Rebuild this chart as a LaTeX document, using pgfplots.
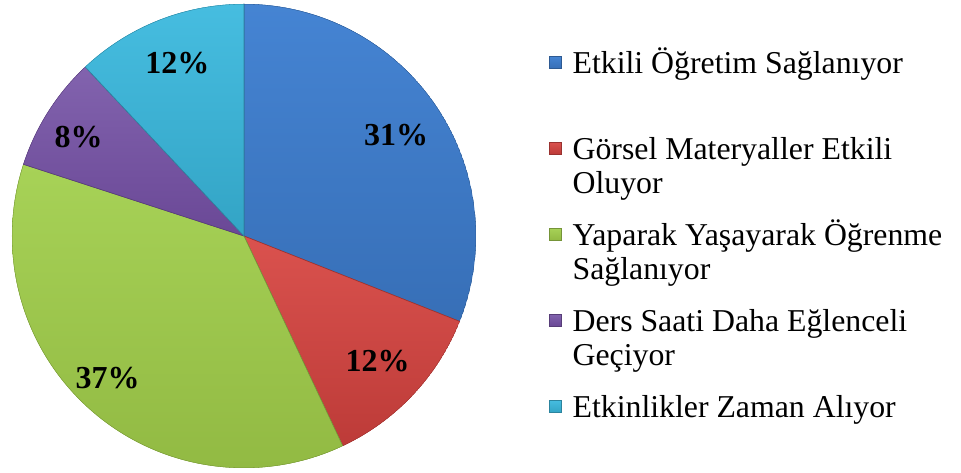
\documentclass[border=0pt]{standalone}
\usepackage{pgfplots}
\pgfplotsset{compat=1.18}
\usepgfplotslibrary{polar}
\usepackage{fontspec}
\setmainfont{Liberation Serif}
\definecolor{pblue}{HTML}{3D78C3}
\definecolor{pred}{HTML}{CC4340}
\definecolor{pgreen}{HTML}{9CC54B}
\definecolor{ppurple}{HTML}{7452A0}
\definecolor{pcyan}{HTML}{3BB0D3}
\definecolor{pblueT}{HTML}{4584D3}
\definecolor{pblueB}{HTML}{376FB7}
\definecolor{predT}{HTML}{DA524E}
\definecolor{predB}{HTML}{BD3B38}
\definecolor{pgreenT}{HTML}{A7D257}
\definecolor{pgreenB}{HTML}{92BA43}
\definecolor{ppurpleT}{HTML}{8263AE}
\definecolor{ppurpleB}{HTML}{6A4896}
\definecolor{pcyanT}{HTML}{46BDE0}
\definecolor{pcyanB}{HTML}{33A4C5}
\begin{document}
\begin{tikzpicture}
\begin{polaraxis}[
  at={(244pt,237pt)}, anchor=center,
  scale only axis, width=464pt, height=464pt,
  ymin=0, ymax=1, hide axis,
  legend style={at={(1.1573,0.9073)}, anchor=north west, draw=none, fill=none,
    inner sep=0pt, row sep=0pt, column sep=11pt,
    font=\fontsize{31.8}{34}\selectfont,
    cells={anchor=base west},
    nodes={inner sep=0pt, text height=26pt, text depth=60pt}},
  legend image code/.code={\filldraw[#1, line width=0.4pt] (0pt,5pt) rectangle (12pt,17pt);},
]
% values (percent): 31, 12, 37, 8, 12 -- clockwise from 12 o'clock
\addplot[fill=pblue, top color=pblueT, bottom color=pblueB, draw=pblue!75!black, line width=0.6pt, domain={90-3.6*31}:90, samples=90] {1} -- (axis cs:0,0) -- cycle;
\addlegendentry{Etkili Öğretim Sağlanıyor}
\addplot[fill=pred, top color=predT, bottom color=predB, draw=pred!75!black, line width=0.6pt, domain={90-3.6*(31+12)}:{90-3.6*31}, samples=40] {1} -- (axis cs:0,0) -- cycle;
\addlegendentry{\parbox[t]{380pt}{Görsel Materyaller Etkili\\Oluyor}}
\addplot[fill=pgreen, top color=pgreenT, bottom color=pgreenB, draw=pgreen!75!black, line width=0.6pt, domain={90-3.6*(31+12+37)}:{90-3.6*(31+12)}, samples=100] {1} -- (axis cs:0,0) -- cycle;
\addlegendentry{\parbox[t]{380pt}{Yaparak Yaşayarak Öğrenme\\Sağlanıyor}}
\addplot[fill=ppurple, top color=ppurpleT, bottom color=ppurpleB, draw=ppurple!75!black, line width=0.6pt, domain={90-3.6*(31+12+37+8)}:{90-3.6*(31+12+37)}, samples=30] {1} -- (axis cs:0,0) -- cycle;
\addlegendentry{\parbox[t]{380pt}{Ders Saati Daha Eğlenceli\\Geçiyor}}
\addplot[fill=pcyan, top color=pcyanT, bottom color=pcyanB, draw=pcyan!75!black, line width=0.6pt, domain={90-3.6*(31+12+37+8+12)}:{90-3.6*(31+12+37+8)}, samples=40] {1} -- (axis cs:0,0) -- cycle;
\addlegendentry{Etkinlikler Zaman Alıyor}
\begin{scope}[every node/.style={font=\fontsize{32}{38}\selectfont\bfseries}]
\node at (axis cs:33.6,0.787) {31\%};
\node at (axis cs:-43.2,0.79) {12\%};
\node at (axis cs:226.2,0.85) {37\%};
\node at (axis cs:149.2,0.83) {8\%};
\node at (axis cs:111,0.80) {12\%};
\end{scope}
\end{polaraxis}
\pgfresetboundingbox
\path[use as bounding box] (0,0) rectangle (961pt,473pt);
\end{tikzpicture}
\end{document}
